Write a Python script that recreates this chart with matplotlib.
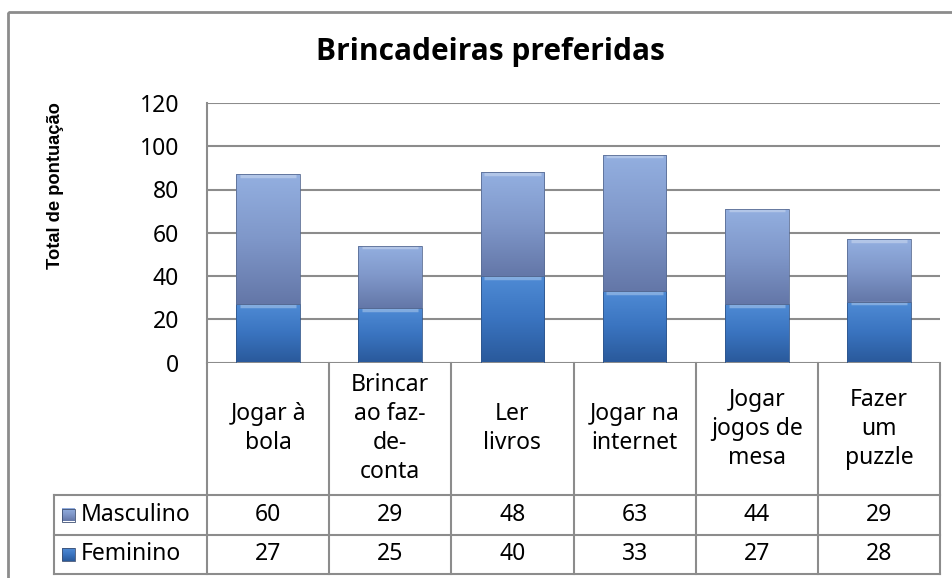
import matplotlib
matplotlib.use("Agg")
import matplotlib.pyplot as plt
import numpy as np
from matplotlib.colors import LinearSegmentedColormap
from matplotlib.transforms import blended_transform_factory
from matplotlib.patches import Rectangle

categories = ["Jogar à\nbola", "Brincar\nao faz-\nde-\nconta", "Ler\nlivros",
              "Jogar na\ninternet", "Jogar\njogos de\nmesa", "Fazer\num\npuzzle"]
series_names = ["Masculino", "Feminino"]
masculino = [60, 29, 48, 63, 44, 29]
feminino = [27, 25, 40, 33, 27, 28]
yticks = [0, 20, 40, 60, 80, 100, 120]

W, H = 953, 578
FONT = "Noto Sans"
GRID = "#8c8c8c"
FS = 16.5

masc_cmap = LinearSegmentedColormap.from_list("masc", ["#6477a8", "#7f97c9", "#93afe0"])
fem_cmap = LinearSegmentedColormap.from_list("fem", ["#2a5a9c", "#3a74c0", "#4f8bd5"])


def px(x0, y0, x1, y1):
    """Pixel box (top-left origin) -> figure fraction rect."""
    return [x0 / W, 1 - y1 / H, (x1 - x0) / W, (y1 - y0) / H]


def gradient_bar(ax, bar, cmap):
    x0, y0 = bar.get_x(), bar.get_y()
    w, h = bar.get_width(), bar.get_height()
    grad = np.linspace(0, 1, 64).reshape(-1, 1)
    im = ax.imshow(grad, cmap=cmap, origin="lower", aspect="auto",
                   extent=[x0, x0 + w, y0, y0 + h], zorder=2)
    im.set_clip_path(bar)
    # light bevel strip on top
    ax.plot([x0 + 0.03, x0 + w - 0.03], [y0 + h - 0.7, y0 + h - 0.7],
            color="white", alpha=0.3, lw=2.5, zorder=3, solid_capstyle="butt")


fig = plt.figure(figsize=(W / 100, H / 100), dpi=100)

# outer chart frame (only left/top visible)
frame = fig.add_axes([0, 0, 1, 1])
frame.set_xlim(0, W)
frame.set_ylim(H, 0)
frame.axis("off")
frame.add_patch(Rectangle((8, 12), W + 20, H + 20, fill=False, ec=GRID, lw=2))

ax = fig.add_axes(px(207, 103, 940, 362.5))
x = np.arange(len(categories))
bw = 0.52

fem_bars = ax.bar(x, feminino, bw, color="none", edgecolor="#2f568c", lw=0.6, zorder=4)
masc_bars = ax.bar(x, masculino, bw, bottom=feminino, color="none",
                   edgecolor="#5a6d94", lw=0.6, zorder=4)
for b in fem_bars:
    gradient_bar(ax, b, fem_cmap)
for b in masc_bars:
    gradient_bar(ax, b, masc_cmap)

ax.set_xlim(-0.5, len(categories) - 0.5)
ax.set_ylim(0, 120)
ax.set_yticks(yticks)
ax.set_yticklabels([str(v) for v in yticks], fontsize=FS, family=FONT)
ax.tick_params(axis="y", length=0, pad=20)
ax.tick_params(axis="x", length=0, labelbottom=False)
ax.grid(axis="y", color=GRID, lw=1.5, zorder=0)
ax.set_axisbelow(True)
for s in ["top", "right", "bottom"]:
    ax.spines[s].set_visible(False)
ax.spines["left"].set_color(GRID)
ax.spines["left"].set_linewidth(1.5)

fig.text(490 / W, 1 - 52 / H, "Brincadeiras preferidas", ha="center", va="center",
         fontsize=21.5, fontweight="bold", family=["Open Sans", "DejaVu Sans"])
fig.text(56 / W, 1 - 186 / H, "Total de pontuação", ha="center", va="center",
         rotation=90, fontsize=13.2, fontweight="bold", family="Liberation Sans")

# data table below the axis
tr = blended_transform_factory(ax.transData, ax.transAxes)
ax_h = 362.5 - 103
y_cat = 0.0
y_masc = -(495 - 362.5) / ax_h
y_fem = -(535 - 362.5) / ax_h
y_bot = -(574 - 362.5) / ax_h
x_leg = -0.5 - (207 - 54) / (733 / len(categories))
n = len(categories)
line_kw = dict(color=GRID, lw=1.5, clip_on=False, transform=tr, zorder=1)

for xb in np.arange(n + 1) - 0.5:
    ax.plot([xb, xb], [y_cat, y_bot], **line_kw)
ax.plot([x_leg, x_leg], [y_masc, y_bot], **line_kw)
for yb in [y_masc, y_fem, y_bot]:
    ax.plot([x_leg, n - 0.5], [yb, yb], **line_kw)

for i, cat in enumerate(categories):
    ax.text(i, (y_cat + y_masc) / 2, cat, transform=tr, ha="center", va="center",
            fontsize=FS, family=FONT, linespacing=1.27, clip_on=False)
    ax.text(i, (y_masc + y_fem) / 2, str(masculino[i]), transform=tr, ha="center",
            va="center", fontsize=FS, family=FONT, clip_on=False)
    ax.text(i, (y_fem + y_bot) / 2, str(feminino[i]), transform=tr, ha="center",
            va="center", fontsize=FS, family=FONT, clip_on=False)

# legend keys and names in the table
key_w = 13 / 733 * n
key_h = 13 / ax_h
for name, cmap, (ya, yb) in [(series_names[0], masc_cmap, (y_masc, y_fem)),
                             (series_names[1], fem_cmap, (y_fem, y_bot))]:
    yc = (ya + yb) / 2
    kx0 = x_leg + 8 / 733 * n
    key = Rectangle((kx0, yc - key_h / 2), key_w, key_h, transform=tr,
                    facecolor="none", edgecolor="#3d4f72", lw=0.6, clip_on=False, zorder=5)
    ax.add_patch(key)
    im = ax.imshow(np.linspace(0, 1, 32).reshape(-1, 1), cmap=cmap, origin="lower",
                   aspect="auto", extent=[kx0, kx0 + key_w, yc - key_h / 2, yc + key_h / 2],
                   transform=tr, clip_on=False, zorder=4)
    im.set_clip_path(key)
    ax.text(x_leg + 27 / 733 * n, yc, name, transform=tr, ha="left", va="center",
            fontsize=FS, family=FONT, clip_on=False)

ax.set_xlim(-0.5, n - 0.5)
ax.set_ylim(0, 120)

fig.savefig("out.png", dpi=100)
